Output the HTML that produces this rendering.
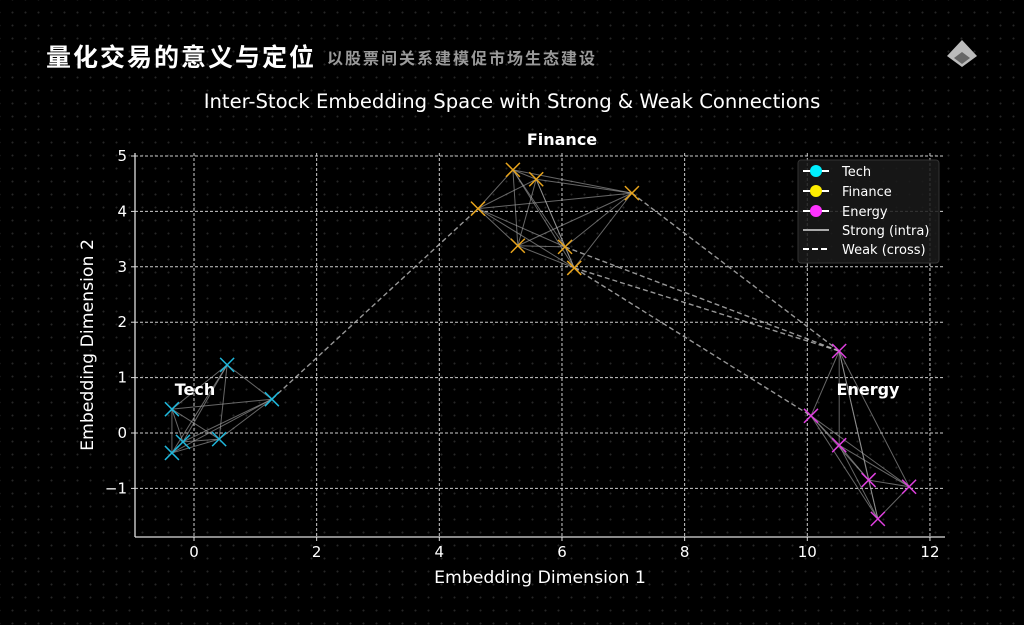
<!DOCTYPE html>
<html><head><meta charset="utf-8"><style>
html,body{margin:0;padding:0;background:#000;}
body{width:1024px;height:625px;overflow:hidden;position:relative;font-family:"DejaVu Sans",sans-serif;
background-image:radial-gradient(circle,#262626 0.8px,transparent 1.2px);background-size:13px 13px;background-position:6px 6px;}
.h1{position:absolute;left:46px;top:38px;color:#fff;font:bold 25px "Liberation Sans","Noto Sans CJK SC",sans-serif;letter-spacing:2px;}
.h2{position:absolute;left:327px;top:45px;color:#9a9a9a;font:bold 16px "Liberation Sans","Noto Sans CJK SC",sans-serif;letter-spacing:2px;}
svg{position:absolute;left:0;top:0;}
svg text{font-family:"DejaVu Sans",sans-serif;}
</style></head><body>
<div class="h1">量化交易的意义与定位</div>
<div class="h2">以股票间关系建模促市场生态建设</div>
<svg id="chart" width="1024" height="625">
<g>
<polygon points="962,40 977,56 962,67 947,56" fill="#bbb"/><polygon points="962,52 970,58 962,64 954,58" fill="#666"/>
</g>
</svg>
<script>
const techX=[0.54,1.27,-0.36,-0.18,0.41,-0.36];
const techY=[1.23,0.61,0.43,-0.16,-0.11,-0.36];
const finX=[5.2,5.58,7.14,4.63,5.28,6.05,6.2];
const finY=[4.75,4.58,4.33,4.05,3.38,3.36,2.98];
const engX=[10.52,10.06,10.52,11.0,11.66,11.15];
const engY=[1.48,0.31,-0.22,-0.85,-0.97,-1.55];
const weakFrom=[["tech",1],["fin",2],["fin",5],["fin",6],["fin",6]];
const weakTo=[["fin",3],["eng",0],["eng",0],["eng",0],["eng",1]];
const xTicks=[0,2,4,6,8,10,12];
const yTicks=[-1,0,1,2,3,4,5];
const NS="http://www.w3.org/2000/svg";
const svg=document.getElementById('chart');
const X=v=>194+v*61.33, Y=v=>433-v*55.4;
function mk(t,a,p){const e=document.createElementNS(NS,t);for(const k in a)e.setAttribute(k,a[k]);(p||svg).appendChild(e);return e;}
function txt(s,a){const e=mk('text',a);e.textContent=s;return e;}
txt('Inter-Stock Embedding Space with Strong & Weak Connections',{x:512,y:108,'text-anchor':'middle',fill:'#fff','font-size':19.6,'font-weight':'500',});
const L=135,R=945,T=153,B=537;
const grid=mk('g',{});


xTicks.forEach(t=>{
 const x=X(t);
 mk('line',{x1:x,x2:x,y1:T,y2:B,stroke:'#ccc','stroke-dasharray':'3,2','stroke-width':1},grid);
 mk('line',{x1:x,x2:x,y1:B,y2:B+4,stroke:'#ddd'});
 const e=txt(String(t).replace('-','−'),{x:x,y:B+20,'text-anchor':'middle',fill:'#fff','font-size':15});
 
 
});
yTicks.forEach(t=>{
 const y=Y(t);
 mk('line',{x1:L,x2:R,y1:y,y2:y,stroke:'#ccc','stroke-dasharray':'3,2','stroke-width':1},grid);
 mk('line',{x1:L-4,x2:L,y1:y,y2:y,stroke:'#ddd'});
 const e=txt(String(t).replace('-','−'),{x:L-8,y:y+5,'text-anchor':'end',fill:'#fff','font-size':15});
 
 
});
mk('line',{x1:L,x2:L,y1:T,y2:B,stroke:'#ddd','stroke-width':1.3,});
mk('line',{x1:L,x2:R,y1:B,y2:B,stroke:'#ddd','stroke-width':1.3,});
txt('Embedding Dimension 1',{x:540,y:583,'text-anchor':'middle',fill:'#fff','font-size':17.3,});
txt('Embedding Dimension 2',{x:0,y:0,transform:'translate(93,345) rotate(-90)','text-anchor':'middle',fill:'#fff','font-size':17.3,});
const groups={tech:[techX,techY,'#1fb8dc'],fin:[finX,finY,'#e8a41c'],eng:[engX,engY,'#e040e0']};
for(const k in groups){const [xs,ys]=groups[k];
 for(let i=0;i<xs.length;i++)for(let j=i+1;j<xs.length;j++){
  const l=mk('line',{x1:X(xs[i]),y1:Y(ys[i]),x2:X(xs[j]),y2:Y(ys[j]),stroke:'#aaa','stroke-opacity':0.6,'stroke-width':1});
  
  
 }}
weakFrom.forEach((f,i)=>{const t=weakTo[i];const a=groups[f[0]],b=groups[t[0]];
 const l=mk('line',{x1:X(a[0][f[1]]),y1:Y(a[1][f[1]]),x2:X(b[0][t[1]]),y2:Y(b[1][t[1]]),stroke:'#bbb','stroke-opacity':0.8,'stroke-width':1.4,'stroke-dasharray':'5,3'});
 
 
});
for(const k in groups){const [xs,ys,c]=groups[k];
 xs.forEach((v,i)=>{const x=X(v),y=Y(ys[i]);const g=mk('g',{});
  
  
  mk('line',{x1:x-7,y1:y-7,x2:x+7,y2:y+7,stroke:c,'stroke-width':1.5},g);
  mk('line',{x1:x-7,y1:y+7,x2:x+7,y2:y-7,stroke:c,'stroke-width':1.5},g);
 });}
[['Tech',195,395],['Finance',562,145],['Energy',868,395]].forEach(a=>{
 const e=txt(a[0],{x:a[1],y:a[2],'text-anchor':'middle',fill:'#fff','font-size':16,'font-weight':'bold'});
 
 
});
const lg=mk('g',{});


mk('rect',{x:798,y:160,width:141,height:103,rx:3,fill:'#1a1a1a','fill-opacity':0.85,stroke:'#333'},lg);
[['Tech','#00f0ff'],['Finance','#ffee00'],['Energy','#ff33ff']].forEach((e,i)=>{const y=171+i*20;
 mk('line',{x1:803,x2:829,y1:y,y2:y,stroke:'#fff','stroke-width':2},lg);
 mk('circle',{cx:816,cy:y,r:6,fill:e[1]},lg);
 const t=txt(e[0],{x:842,y:y+5,fill:'#fff','font-size':13});lg.appendChild(t);
 
 
});
mk('line',{x1:803,x2:829,y1:230,y2:230,stroke:'#aaa','stroke-width':2},lg);
let t1=txt('Strong (intra)',{x:842,y:235,fill:'#fff','font-size':13});lg.appendChild(t1);


mk('line',{x1:803,x2:829,y1:249,y2:249,stroke:'#fff','stroke-width':2,'stroke-dasharray':'6,3'},lg);
let t2=txt('Weak (cross)',{x:842,y:254,fill:'#fff','font-size':13});lg.appendChild(t2);


</script>
</body></html>
